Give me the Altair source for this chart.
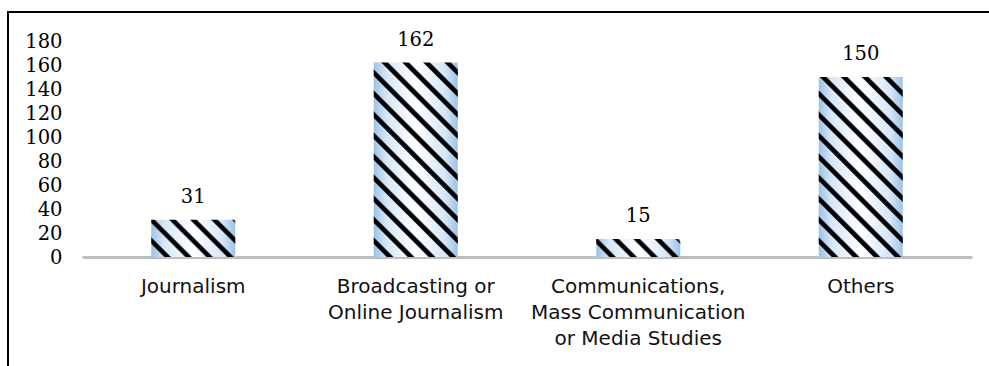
import math
import altair as alt
import pandas as pd

# ---- data ----
categories = [
    "Journalism",
    "Broadcasting or\nOnline Journalism",
    "Communications,\nMass Communication\nor Media Studies",
    "Others",
]
values = [31, 162, 15, 150]
y_ticks = [0, 20, 40, 60, 80, 100, 120, 140, 160, 180]

df = pd.DataFrame({"category": categories, "value": values, "idx": list(range(len(categories)))})

# ---- layout constants ----
PLOT_W, PLOT_H = 890, 216
PAD = {"left": 82, "top": 41, "right": 17, "bottom": 109}
Y_MAX = 180
PX_PER_UNIT = PLOT_H / Y_MAX
BAR_W = 84
PERIOD = 21.0  # stripe period measured horizontally, px

SERIF = "DejaVu Serif"
SANS = "DejaVu Sans"

blue_fill = {
    "gradient": "linear", "x1": 0, "y1": 0, "x2": 1, "y2": 0,
    "stops": [
        {"offset": 0.0, "color": "#9cc3e6"},
        {"offset": 0.15, "color": "#d6e6f6"},
        {"offset": 0.5, "color": "#ffffff"},
        {"offset": 0.85, "color": "#d6e6f6"},
        {"offset": 1.0, "color": "#9cc3e6"},
    ],
}

CLEAR = "rgba(255,255,255,0)"
pattern = [
    (0.00, CLEAR), (0.56, CLEAR), (0.63, "rgba(20,35,55,0.85)"),
    (0.69, "#000000"), (0.86, "#000000"), (0.93, "rgba(20,35,55,0.85)"), (0.999, CLEAR),
]


def stripe_fill(v):
    """Diagonal stripe style ('\\' direction, 45 deg) for a bar of value v."""
    W = BAR_W
    H = max(v * PX_PER_UNIT, 1.0)
    r = H / W
    dx = (1 + r) / (1 + r * r)
    x2 = dx
    y2 = 1 - r * dx
    total = W + H
    n = int(math.ceil(total / PERIOD)) + 1
    stops = []
    last = -1.0
    for i in range(n):
        for f, c in pattern:
            off = (i + f) * PERIOD / total
            if off > 1:
                break
            if off > last:
                stops.append({"offset": round(off, 5), "color": c})
                last = off
    stops.append({"offset": 1.0, "color": CLEAR})
    return {"gradient": "linear", "x1": 0, "y1": 1, "x2": round(x2, 5), "y2": round(y2, 5), "stops": stops}


x_axis = alt.Axis(
    title=None, ticks=False, labelAngle=0, domainColor="#bfbfbf", domainWidth=3,
    labelFont=SANS, labelFontSize=20, labelColor="#111111", labelPadding=19,
    labelLineHeight=26, labelExpr="split(datum.label, '\\n')", labelLimit=400,
    grid=False,
)
y_axis = alt.Axis(
    title=None, values=y_ticks, ticks=False, domain=False, grid=False,
    labelFont=SERIF, labelFontSize=19.5, labelColor="#000000", labelPadding=20,
    labelOverlap=False, labelFlush=False, labelBound=False,
)
x_scale = alt.Scale(paddingInner=0, paddingOuter=0)
y_scale = alt.Scale(domain=[0, Y_MAX], nice=False)


def xe():
    return alt.X("category:N", sort=categories, scale=x_scale, axis=x_axis)


def ye():
    return alt.Y("value:Q", scale=y_scale, axis=y_axis)


base = alt.Chart(df)

bg = base.mark_bar(size=BAR_W, fill=blue_fill).encode(x=xe(), y=ye())

stripe_layers = [
    base.transform_filter(alt.datum.idx == i)
    .mark_bar(size=BAR_W, fill=stripe_fill(v))
    .encode(x=xe(), y=ye())
    for i, v in enumerate(values)
]

labels = base.mark_text(
    font=SERIF, fontSize=19.5, color="#000000", baseline="alphabetic", dy=-17
).encode(x=xe(), y=ye(), text="value:Q")

frame_data = alt.Data(values=[{}])
frame_top = alt.Chart(frame_data).mark_rule(color="black", strokeWidth=2).encode(
    x=alt.value(-PAD["left"] + 7), x2=alt.value(PLOT_W + PAD["right"]),
    y=alt.value(-PAD["top"] + 12),
)
frame_left = alt.Chart(frame_data).mark_rule(color="black", strokeWidth=2).encode(
    x=alt.value(-PAD["left"] + 8), y=alt.value(-PAD["top"] + 11),
    y2=alt.value(PLOT_H + PAD["bottom"]),
)

chart = alt.layer(bg, *stripe_layers, labels, frame_top, frame_left).properties(
    width=PLOT_W, height=PLOT_H,
    autosize=alt.AutoSizeParams(type="none"),
    padding=PAD,
).configure(
    background="white",
    view=alt.ViewConfig(stroke=None),
    axisY=alt.AxisConfig(labelOverlap=False),
)

chart.save("out.html", embed_options={"renderer": "svg", "actions": False})
